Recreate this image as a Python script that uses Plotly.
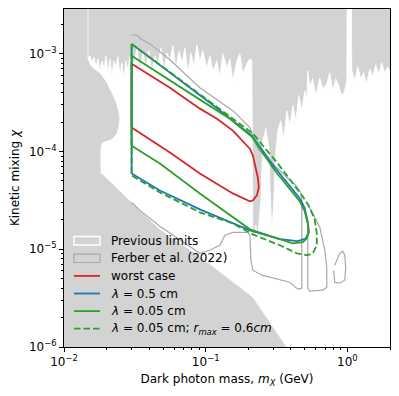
import plotly.graph_objects as go

# ---- data ---------------------------------------------------------------
# previous limits, lower-left excluded region (edge from bottom to top)
prev_lower_x = [0.3738, 0.2153, 0.0910, 0.0475, 0.02968, 0.01824, 0.01824, 0.01854, 0.01978,
                0.02180, 0.02364, 0.02443, 0.02483, 0.02403, 0.02289, 0.02110, 0.01978, 0.01794,
                0.01602, 0.01525, 0.01477]
prev_lower_y = [1e-6, 3.24e-6, 8.49e-6, 1.60e-5, 3.09e-5, 6.11e-5, 1.02e-4, 1.21e-4, 1.27e-4,
                1.32e-4, 1.53e-4, 1.80e-4, 2.22e-4, 2.81e-4, 3.47e-4, 4.50e-4, 5.30e-4, 6.40e-4,
                7.19e-4, 7.91e-4, 9.10e-4]

# previous limits, upper excluded region (lower edge, left to right)
prev_upper_x = [0.01477, 0.01525, 0.01576, 0.01628, 0.01681, 0.01737, 0.01794, 0.01854, 0.01915,
                0.01978, 0.02043, 0.02110, 0.02180, 0.02252, 0.02326, 0.02403, 0.02483, 0.02564,
                0.02649, 0.02736, 0.02827, 0.02920, 0.03117, 0.03273, 0.03436, 0.03607, 0.03787,
                0.03977, 0.04175, 0.04384, 0.04602, 0.04831, 0.05074, 0.05326, 0.05591, 0.05871,
                0.06164, 0.06471, 0.06797, 0.07135, 0.07491, 0.07864, 0.08257, 0.08668, 0.09101,
                0.09557, 0.1020, 0.1071, 0.1124, 0.1200, 0.1259, 0.1322, 0.1411, 0.1482, 0.1555,
                0.1660, 0.1743, 0.1830, 0.1953, 0.2050, 0.2118, 0.2153, 0.2259, 0.2334, 0.2450,
                0.2531, 0.2657, 0.2790, 0.2836, 0.2931, 0.3027, 0.3127, 0.3229, 0.3391, 0.3561,
                0.3738, 0.3925, 0.4121, 0.4326, 0.4543, 0.4769, 0.5006, 0.5171, 0.5256, 0.5430,
                0.5702, 0.5987, 0.6389, 0.6708, 0.7158, 0.7516, 0.7890, 0.8284, 0.8698, 0.9133,
                0.9585, 0.9901, 0.998, 1.065, 1.074, 1.127, 1.184, 1.243, 1.305, 1.370, 1.439,
                1.511, 1.586, 1.665, 1.748, 1.835, 1.927, 1.991]
prev_upper_y = [9.10e-4, 9.55e-4, 8.09e-4, 9.31e-4, 7.36e-4, 8.89e-4, 6.71e-4, 8.49e-4, 7.03e-4,
                9.55e-4, 6.40e-4, 8.89e-4, 5.97e-4, 8.49e-4, 7.36e-4, 9.31e-4, 6.11e-4, 8.09e-4,
                5.56e-4, 8.49e-4, 6.71e-4, 9.55e-4, 8.09e-4, 1.125e-3, 6.71e-4, 1.024e-3, 7.36e-4,
                1.074e-3, 6.40e-4, 9.55e-4, 7.73e-4, 1.151e-3, 6.71e-4, 1.024e-3, 8.49e-4, 1.208e-3,
                7.03e-4, 1.074e-3, 8.09e-4, 1.151e-3, 6.40e-4, 1.024e-3, 7.36e-4, 1.236e-3, 8.49e-4,
                1.074e-3, 7.19e-4, 9.55e-4, 6.71e-4, 8.49e-4, 5.69e-4, 1.0e-3, 7.19e-4, 8.89e-4, 5.30e-4,
                8.49e-4, 1.0e-3, 6.25e-4, 7.91e-4, 8.89e-4, 8.49e-4, 1.24e-5, 1.76e-5, 1.29e-5, 3.16e-5,
                1.29e-4, 1.72e-4, 1.15e-4, 5.06e-5, 1.46e-5, 3.16e-5, 1.02e-4, 1.64e-4, 2.07e-4, 1.35e-4,
                2.62e-4, 1.84e-4, 2.95e-4, 2.07e-4, 3.73e-4, 2.62e-4, 4.19e-4, 3.31e-4, 6.71e-4, 4.71e-4,
                5.56e-4, 3.73e-4, 5.69e-4, 4.39e-4, 4.94e-4, 6.40e-4, 4.19e-4, 5.56e-4, 4.71e-4, 3.73e-4,
                4.19e-4, 5.30e-4, 5e-3, 5e-3, 6.71e-4, 5.30e-4, 7.36e-4, 5.56e-4, 6.40e-4, 4.94e-4, 7.03e-4,
                5.83e-4, 7.73e-4, 6.11e-4, 8.09e-4, 6.40e-4, 7.36e-4, 6.71e-4]

# Ferber et al. (2022) contours
ferber_x = [0.03, 0.03273, 0.03491, 0.04042, 0.05591, 0.0910, 0.1555, 0.2050, 0.2223, 0.2334,
            0.2701, 0.3337, 0.4326, 0.4692, 0.4769, 0.4769, 0.4469, 0.3925, 0.2490, 0.2153,
            0.2084, 0.2050, 0.1985, 0.1555, 0.1366, 0.1259, 0.1071, 0.0910, 0.0475, 0.03436, 0.03,
            None,
            0.5342, 0.5702, 0.6389, 0.6929, 0.7158, 0.7158, 0.6708, 0.5430, 0.5256, 0.5256,
            None,
            0.8150, 0.8840, 0.9280, 0.9585, 0.9743, 0.9585, 0.8840, 0.8150, 0.8019]
ferber_y = [1.56e-3, 1.56e-3, 1.42e-3, 1.265e-3, 8.69e-4, 4.50e-4, 2.62e-4, 1.76e-4, 1.29e-4, 1.07e-4,
            8.49e-5, 6.40e-5, 4.50e-5, 3.82e-5, 3.16e-5, 4.00e-6, 3.91e-6, 4.60e-6, 5.43e-6, 6.11e-6,
            7.73e-6, 1.39e-5, 1.49e-5, 1.49e-5, 1.39e-5, 1.10e-5, 9.77e-6, 9.10e-6, 1.72e-5, 2.50e-5, 3.02e-5,
            None,
            2.75e-5, 2.33e-5, 1.68e-5, 9.77e-6, 6.55e-6, 4.09e-6, 3.82e-6, 3.73e-6, 4.00e-6, 1.98e-5,
            None,
            6.87e-6, 9.10e-6, 9.55e-6, 8.69e-6, 6.55e-6, 4.83e-6, 4.50e-6, 4.60e-6, 6.11e-6]

# worst case
red_x = [0.03, 0.0559, 0.0910, 0.1200, 0.1555, 0.2050, 0.2153, 0.2223, 0.2334, 0.2372, 0.2297,
         0.2153, 0.2050, 0.1555, 0.1200, 0.0910, 0.0559, 0.03, 0.03]
red_y = [7.91e-4, 4.50e-4, 2.75e-4, 2.17e-4, 1.64e-4, 1.07e-4, 9.10e-5, 7.55e-5, 5.43e-5, 4.29e-5,
         3.56e-5, 3.16e-5, 3.09e-5, 3.73e-5, 4.71e-5, 5.97e-5, 9.77e-5, 1.76e-4, 7.91e-4]

# lambda = 0.5 cm
blue_x = [0.03, 0.0559, 0.1071, 0.2118, 0.3076, 0.4617, 0.5006, 0.5256, 0.5342, 0.5088, 0.4469,
          0.3337, 0.2050, 0.0910, 0.0475, 0.03, 0.03]
blue_y = [1.265e-3, 6.40e-4, 3.16e-4, 1.46e-4, 6.87e-5, 3.31e-5, 2.62e-5, 1.89e-5, 1.49e-5, 1.29e-5,
          1.21e-5, 1.27e-5, 1.56e-5, 2.56e-5, 4.00e-5, 5.97e-5, 1.265e-3]

# lambda = 0.05 cm
green_x = [0.03, 0.0559, 0.0910, 0.1482, 0.2118, 0.3076, 0.4617, 0.5006, 0.5256, 0.5342, 0.5171,
           0.4847, 0.4121, 0.3337, 0.2050, 0.0910, 0.0475, 0.03, 0.03]
green_y = [9.55e-4, 5.30e-4, 3.40e-4, 2.17e-4, 1.42e-4, 6.40e-5, 3.09e-5, 2.44e-5, 1.84e-5, 1.49e-5,
           1.29e-5, 1.18e-5, 1.15e-5, 1.27e-5, 1.60e-5, 3.73e-5, 7.55e-5, 1.15e-4, 9.55e-4]

# lambda = 0.05 cm, r_max = 0.6 cm
dash_x = [0.03, 0.0559, 0.1071, 0.2153, 0.3229, 0.4847, 0.5430, 0.5891, 0.6085, 0.6085, 0.5702,
          0.5171, 0.4397, 0.3337, 0.2153, 0.1555, 0.0910, 0.0475, 0.03, 0.03]
dash_y = [1.265e-3, 6.55e-4, 3.24e-4, 1.53e-4, 7.55e-5, 3.47e-5, 2.68e-5, 1.98e-5, 1.46e-5, 1.10e-5,
          9.10e-6, 8.69e-6, 9.10e-6, 1.10e-5, 1.42e-5, 1.84e-5, 2.39e-5, 3.82e-5, 5.69e-5, 1.265e-3]

x_ticks = [0.01, 0.1, 1]
x_ticklabels = ["10<sup>−2</sup>", "10<sup>−1</sup>", "10<sup>0</sup>"]
y_ticks = [1e-6, 1e-5, 1e-4, 1e-3]
y_ticklabels = ["10<sup>−6</sup>", "10<sup>−5</sup>", "10<sup>−4</sup>", "10<sup>−3</sup>"]

legend_labels = [
    "Previous limits",
    "Ferber et al. (2022)",
    "worst case",
    "<i>λ</i> = 0.5 cm",
    "<i>λ</i> = 0.05 cm",
    "<i>λ</i> = 0.05 cm; <i>r</i><sub><i>max</i></sub> = 0.6<i>cm</i>",
]

# ---- figure -------------------------------------------------------------
GRAY = "#d3d3d3"
FERBER = "#a9a9a9"
RED, BLUE, GREEN = "#d62728", "#1f77b4", "#2ca02c"
FONT = "DejaVu Sans"
LW = 1.8
DASH = "6.5px,3px"

# page body adds an 8px offset, so the figure is sized to fit the window
FIG_W, FIG_H = 391, 388
M_L, M_R, M_T, M_B = 56, 9, 1, 49
PLOT_W, PLOT_H = FIG_W - M_L - M_R, FIG_H - M_T - M_B

# close the two grey regions against the frame (extended past the axes, clipped)
lo_x = [0.009, 0.009, prev_lower_x[0]] + prev_lower_x + [prev_lower_x[-1]]
lo_y = [5e-3, 8e-7, 8e-7] + prev_lower_y + [5e-3]
up_x = prev_upper_x + [2.3, 2.3, prev_upper_x[0]]
up_y = prev_upper_y + [prev_upper_y[-1], 5e-3, 5e-3]

fig = go.Figure()

fig.add_trace(go.Scatter(
    x=lo_x + [None] + up_x, y=lo_y + [None] + up_y,
    mode="lines", fill="toself", fillcolor=GRAY,
    line=dict(color="white", width=0.8), hoverinfo="skip"
))
fig.add_trace(go.Scatter(
    x=ferber_x, y=ferber_y, mode="lines", fill="toself",
    fillcolor="rgba(0,0,0,0)", line=dict(color=FERBER, width=1.2)
))
fig.add_trace(go.Scatter(x=red_x, y=red_y, mode="lines", line=dict(color=RED, width=LW)))
fig.add_trace(go.Scatter(x=blue_x, y=blue_y, mode="lines", line=dict(color=BLUE, width=LW)))
fig.add_trace(go.Scatter(x=green_x, y=green_y, mode="lines", line=dict(color=GREEN, width=LW)))
fig.add_trace(go.Scatter(x=dash_x, y=dash_y, mode="lines",
                         line=dict(color=GREEN, width=LW, dash=DASH)))

# hand-built legend (matplotlib style) in plot-area fractions
hx0, hx1, tx = 10 / PLOT_W, 36 / PLOT_W, 45 / PLOT_W
row0, row_step, half_box = 106.3 / PLOT_H, 17.6 / PLOT_H, 4.2 / PLOT_H
handles = [
    dict(type="rect", fillcolor=GRAY, line=dict(color="white", width=1.5)),
    dict(type="rect", fillcolor="rgba(0,0,0,0)", line=dict(color=FERBER, width=1.2)),
    dict(type="line", line=dict(color=RED, width=LW)),
    dict(type="line", line=dict(color=BLUE, width=LW)),
    dict(type="line", line=dict(color=GREEN, width=LW)),
    dict(type="line", line=dict(color=GREEN, width=LW, dash=DASH)),
]
for i, (h, label) in enumerate(zip(handles, legend_labels)):
    yc = row0 - i * row_step
    if h["type"] == "rect":
        fig.add_shape(xref="paper", yref="paper", x0=hx0, x1=hx1,
                      y0=yc - half_box, y1=yc + half_box, **h)
    else:
        fig.add_shape(xref="paper", yref="paper", x0=hx0, x1=hx1, y0=yc, y1=yc, **h)
    fig.add_annotation(xref="paper", yref="paper", x=tx, y=yc, text=label,
                       showarrow=False, xanchor="left", yanchor="middle",
                       font=dict(family=FONT, size=12, color="black"))

x_minor = [m * d for d in [0.01, 0.1, 1] for m in range(2, 10) if m * d <= 2.0]
y_minor = [m * d for d in [1e-6, 1e-5, 1e-4, 1e-3] for m in range(2, 10) if m * d <= 2.88e-3]

axis_common = dict(
    type="log", showgrid=False, zeroline=False, automargin=False,
    showline=True, linecolor="black", linewidth=1, mirror=True,
    ticks="outside", ticklen=4, tickwidth=1, tickcolor="black",
    tickfont=dict(family=FONT, size=12, color="black"),
)

fig.update_xaxes(
    range=[-2, 0.301], tickvals=x_ticks, ticktext=x_ticklabels,
    title=dict(text="Dark photon mass, <i>m</i><sub><i>X</i></sub> (GeV)",
               font=dict(family=FONT, size=12, color="black"), standoff=6),
    minor=dict(tickvals=x_minor, ticks="outside", ticklen=2.4, tickwidth=0.8, tickcolor="black"),
    **axis_common
)
fig.update_yaxes(
    range=[-6, -2.541], tickvals=y_ticks, ticktext=y_ticklabels,
    title=dict(text="Kinetic mixing <i>χ</i>",
               font=dict(family=FONT, size=12, color="black"), standoff=6),
    minor=dict(tickvals=y_minor, ticks="outside", ticklen=2.4, tickwidth=0.8, tickcolor="black"),
    **axis_common
)

fig.update_layout(
    width=FIG_W, height=FIG_H,
    margin=dict(l=M_L, r=M_R, t=M_T, b=M_B),
    paper_bgcolor="white", plot_bgcolor="white",
    font=dict(family=FONT, size=12, color="black"),
    showlegend=False,
)

fig.write_html("out.html")
